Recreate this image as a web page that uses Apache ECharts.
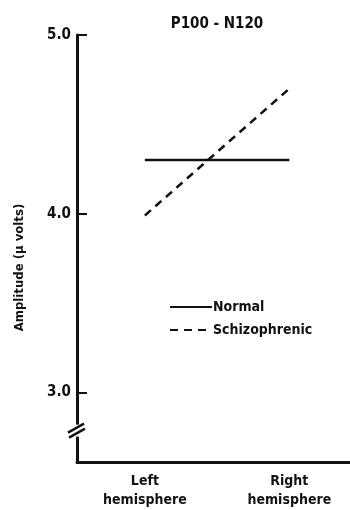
<!DOCTYPE html>
<html>
<head>
<meta charset="utf-8">
<script src="https://cdn.jsdelivr.net/npm/echarts@6/dist/echarts.min.js"></script>
<style>
  html, body { margin: 0; padding: 0; background: #fff; }
  #chart { width: 350px; height: 510px; }
</style>
</head>
<body>
<div id="chart"></div>
<script>
// hemisphere positions on the x axis (0 = left, 1 = right)
const positions = [0, 1]
const categories = ['Left\nhemisphere', 'Right\nhemisphere']
const normal = [4.3, 4.3]
const schizophrenic = [3.99, 4.7]
const yTicks = [3, 4, 5]

const font = '"Liberation Sans Narrow", "DejaVu Sans Condensed", sans-serif'
const ink = '#111'

const chart = echarts.init(document.getElementById('chart'))

function initSeries(name, values, type) {
  return {
    name,
    type: 'line',
    data: positions.map((x, i) => [x, values[i]]),
    symbol: 'none',
    lineStyle: { color: ink, width: 2.5, type },
    itemStyle: { color: ink },
    silent: true
  }
}

const option = {
  animation: false,
  title: {
    text: 'P100 - N120',
    left: 212,
    top: 12,
    textAlign: 'center',
    textStyle: { fontFamily: font, fontWeight: 'bold', fontSize: 15, color: ink }
  },
  legend: {
    orient: 'vertical',
    left: 164,
    top: 295,
    itemWidth: 42,
    itemHeight: 14,
    itemGap: 9,
    itemStyle: { color: 'transparent', borderWidth: 0 },
    textStyle: { fontFamily: font, fontWeight: 'bold', fontSize: 14, color: ink, padding: [0, 0, 0, -4] },
    data: ['Normal', 'Schizophrenic']
  },
  grid: { left: 77, right: 0, top: 35, bottom: 47 },
  xAxis: {
    type: 'value',
    min: -0.47,
    max: 1.42,
    splitLine: { show: false },
    axisLine: { lineStyle: { color: ink, width: 3 } },
    axisTick: { show: false },
    axisLabel: {
      customValues: positions,
      formatter: v => categories[Math.round(v)],
      fontFamily: font,
      fontWeight: 'bold',
      fontSize: 14,
      color: ink,
      lineHeight: 19,
      margin: 10
    }
  },
  yAxis: {
    type: 'value',
    min: 2.61,
    max: 5.0,
    name: 'Amplitude (\u03bc volts)',
    nameLocation: 'middle',
    nameGap: 51,
    nameTextStyle: { fontFamily: font, fontWeight: 'bold', fontSize: 13, color: ink, padding: [0, 38, 0, 0] },
    splitLine: { show: false },
    axisLine: { onZero: false, lineStyle: { color: ink, width: 3 } },
    axisTick: { customValues: yTicks, inside: true, length: 10, lineStyle: { color: ink, width: 2 } },
    axisLabel: {
      customValues: yTicks,
      formatter: v => v.toFixed(1),
      fontFamily: font,
      fontWeight: 'bold',
      fontSize: 15,
      color: ink,
      margin: 6
    }
  },
  series: [
    initSeries('Normal', normal, 'solid'),
    initSeries('Schizophrenic', schizophrenic, [8, 6])
  ]
}

chart.setOption(option)

// axis break marker on the y axis
const bx = chart.convertToPixel({ xAxisIndex: 0 }, -0.47)
const by = chart.convertToPixel({ yAxisIndex: 0 }, 2.78)
chart.setOption({
  graphic: [
    { type: 'rect', shape: { x: bx - 5, y: by - 7, width: 10, height: 12 }, style: { fill: '#fff' }, z: 100 },
    { type: 'line', shape: { x1: bx - 9, y1: by + 1, x2: bx + 7, y2: by - 8 }, style: { stroke: ink, lineWidth: 2.5 }, z: 101 },
    { type: 'line', shape: { x1: bx - 8, y1: by + 6, x2: bx + 8, y2: by - 3 }, style: { stroke: ink, lineWidth: 2.5 }, z: 101 }
  ]
})
</script>
</body>
</html>
